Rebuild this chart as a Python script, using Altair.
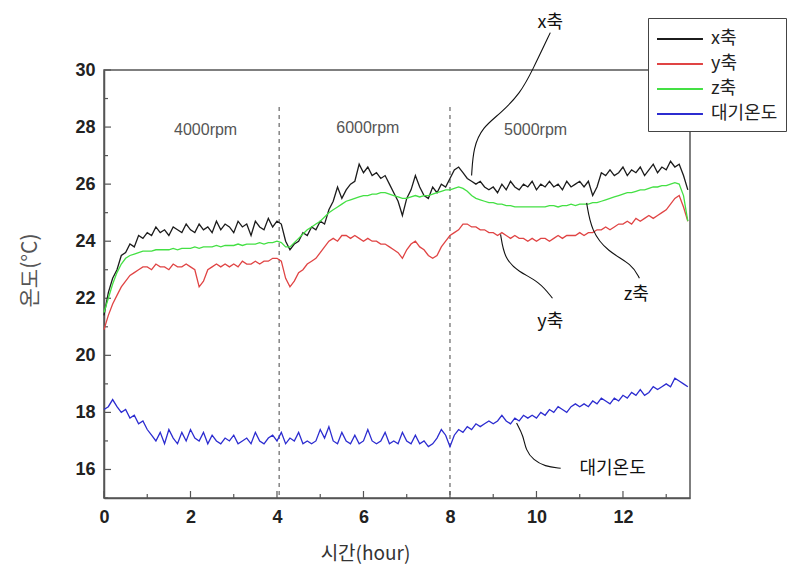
import altair as alt
import pandas as pd

# time grid (hours), sampled every 0.1 h
hours = [round(i * 0.1, 1) for i in range(136)]

x_axis_temp = [
    21.4, 22.2, 22.7, 23.0, 23.5, 23.6, 23.9, 23.8, 24.2, 24.1,
    24.3, 24.2, 24.5, 24.3, 24.4, 24.2, 24.5, 24.4, 24.3, 24.6,
    24.4, 24.3, 24.6, 24.4, 24.5, 24.3, 24.7, 24.4, 24.6, 24.5,
    24.3, 24.7, 24.5, 24.6, 24.2, 24.7, 24.5, 24.4, 24.8, 24.5,
    24.7, 24.6, 24.0, 23.7, 23.9, 24.0, 24.3, 24.2, 24.5, 24.4,
    24.7, 24.6, 25.1, 25.4, 25.9, 25.5, 25.8, 26.0, 26.1, 26.7,
    26.4, 26.6, 26.3, 26.4, 26.2, 26.3, 26.0, 25.7, 25.4, 24.9,
    25.5, 25.8, 26.3, 25.9, 25.6, 25.5, 25.9, 25.7, 26.0, 25.9,
    26.2, 26.5, 26.6, 26.4, 26.2, 26.1, 26.0, 26.1, 25.9, 25.8,
    25.9, 25.7, 26.0, 25.8, 26.1, 25.9, 25.8, 26.0, 25.9, 26.1,
    25.8, 26.0, 25.9, 26.1, 25.9, 26.0, 25.8, 26.1, 25.9, 26.0,
    26.1, 25.9, 26.1, 25.6, 25.9, 26.4, 26.3, 26.5, 26.3, 26.4,
    26.6, 26.3, 26.5, 26.4, 26.6, 26.3, 26.5, 26.7, 26.4, 26.6,
    26.5, 26.8, 26.6, 26.7, 26.3, 25.8,
]

y_axis_temp = [
    20.9, 21.4, 21.8, 22.1, 22.4, 22.6, 22.8, 22.9, 23.0, 23.1,
    23.1, 23.0, 23.2, 23.1, 23.1, 23.0, 23.2, 23.1, 23.1, 23.2,
    23.1, 23.0, 22.4, 22.6, 23.0, 23.1, 23.2, 23.1, 23.2, 23.1,
    23.2, 23.1, 23.3, 23.2, 23.2, 23.3, 23.2, 23.3, 23.3, 23.4,
    23.4, 23.3, 22.7, 22.4, 22.6, 22.9, 23.0, 23.2, 23.3, 23.4,
    23.6, 23.8, 24.0, 24.1, 24.0, 24.2, 24.2, 24.1, 24.2, 24.1,
    24.0, 24.1, 24.0, 24.0, 23.9, 23.9, 23.8, 23.7, 23.6, 23.4,
    23.7, 23.9, 24.0, 23.8, 23.7, 23.5, 23.4, 23.5, 23.8, 24.0,
    24.2, 24.3, 24.4, 24.6, 24.6, 24.5, 24.5, 24.4, 24.4, 24.3,
    24.3, 24.2, 24.3, 24.2, 24.1, 24.2, 24.1, 24.1, 24.0, 24.1,
    24.0, 24.1, 24.1, 24.0, 24.1, 24.2, 24.1, 24.2, 24.2, 24.2,
    24.3, 24.2, 24.3, 24.3, 24.4, 24.4, 24.5, 24.4, 24.5, 24.6,
    24.6, 24.7, 24.6, 24.8, 24.7, 24.8, 24.9, 24.8, 24.9, 25.0,
    25.1, 25.3, 25.5, 25.6, 25.2, 24.7,
]

z_axis_temp = [
    21.5, 22.0, 22.5, 22.9, 23.2, 23.4, 23.5, 23.55, 23.6, 23.65,
    23.65, 23.65, 23.7, 23.7, 23.7, 23.7, 23.75, 23.7, 23.75, 23.75,
    23.75, 23.8, 23.75, 23.8, 23.8, 23.8, 23.85, 23.8, 23.85, 23.85,
    23.85, 23.9, 23.85, 23.9, 23.9, 23.9, 23.95, 23.9, 23.95, 23.95,
    24.0, 23.95, 23.8, 23.8, 23.95, 24.1, 24.25, 24.4, 24.5, 24.6,
    24.7, 24.85, 25.0, 25.1, 25.2, 25.3, 25.4, 25.45, 25.5, 25.55,
    25.6, 25.6, 25.65, 25.65, 25.7, 25.7, 25.65, 25.6, 25.55, 25.5,
    25.5, 25.55, 25.6, 25.55, 25.6, 25.6, 25.65, 25.7, 25.75, 25.8,
    25.8, 25.85, 25.9, 25.85, 25.75, 25.6, 25.5, 25.45, 25.4, 25.35,
    25.35, 25.3, 25.3, 25.25, 25.25, 25.2, 25.2, 25.2, 25.2, 25.2,
    25.2, 25.2, 25.2, 25.25, 25.25, 25.2, 25.25, 25.25, 25.3, 25.25,
    25.3, 25.3, 25.3, 25.35, 25.35, 25.4, 25.45, 25.5, 25.55, 25.6,
    25.65, 25.7, 25.7, 25.75, 25.8, 25.8, 25.85, 25.9, 25.9, 25.95,
    25.95, 26.0, 26.05, 26.0, 25.6, 24.7,
]

ambient_temp = [
    18.1, 18.2, 18.45, 18.2, 18.0, 18.1, 17.8, 17.9, 17.6, 17.7,
    17.4, 17.2, 17.0, 17.3, 16.9, 17.4, 17.1, 16.9, 17.3, 17.0,
    17.4, 17.1, 17.0, 17.3, 16.9, 17.2, 17.0, 16.9, 17.1, 17.0,
    17.2, 16.9, 17.0, 17.1, 16.9, 17.3, 17.0, 16.9, 17.1, 17.2,
    17.0, 17.3, 16.9, 17.1, 17.0, 17.3, 16.9, 17.0, 16.9, 17.0,
    17.4, 17.1, 17.5, 17.0, 16.9, 17.3, 17.0, 16.9, 17.2, 16.9,
    17.0, 17.4, 17.0, 16.9, 17.0, 17.3, 16.9, 17.0, 16.9, 17.3,
    17.0, 16.9, 17.2, 16.9, 17.0, 16.8, 16.9, 17.1, 17.4, 17.2,
    16.8, 17.2, 17.4, 17.3, 17.5, 17.4, 17.6, 17.5, 17.6, 17.7,
    17.6, 17.7, 17.9, 17.7, 17.6, 17.8, 17.7, 17.9, 17.8, 17.9,
    17.8, 18.0, 17.9, 18.1, 18.0, 18.2, 18.1, 18.0, 18.2, 18.3,
    18.2, 18.3, 18.2, 18.4, 18.3, 18.5, 18.4, 18.3, 18.5, 18.4,
    18.6, 18.5, 18.7, 18.6, 18.8, 18.6, 18.7, 18.9, 18.8, 18.9,
    19.0, 18.9, 19.2, 19.1, 19.0, 18.9,
]

series_names = ["x축", "y축", "z축", "대기온도"]
series_colors = ["#1c1c1c", "#e04444", "#44e044", "#2c2cd0"]

# speed-phase boundaries and labels
phase_bounds = [4.05, 8.0]
phase_labels = ["4000rpm", "6000rpm", "5000rpm"]
phase_label_x = [2.35, 6.1, 9.98]
phase_label_y = [27.9, 27.95, 27.9]

# callout labels (data coordinates)
callout_text = ["x축", "y축", "z축", "대기온도"]
callout_x = [10.32, 10.32, 12.31, 11.76]
callout_y = [31.66, 21.17, 22.12, 16.0]

# leader curves (data coordinates)
leader_x_h = [10.32, 9.91, 9.63, 9.17, 8.75, 8.54, 8.50]
leader_x_v = [31.31, 30.0, 29.19, 28.48, 27.99, 27.28, 26.3]
leader_y_h = [9.17, 9.26, 9.58, 10.07, 10.37]
leader_y_v = [24.24, 23.39, 22.93, 22.58, 22.0]
leader_z_h = [11.16, 11.27, 11.64, 12.22, 12.38]
leader_z_v = [25.34, 24.35, 23.64, 23.18, 22.7]
leader_a_h = [9.54, 9.70, 9.75, 9.93, 10.19, 10.56]
leader_a_v = [17.63, 17.17, 16.68, 16.33, 16.11, 16.04]

x_tick_labels = [0, 2, 4, 6, 8, 10, 12]
y_tick_labels = [16, 18, 20, 22, 24, 26, 28, 30]
x_minor = [1, 3, 5, 7, 9, 11, 13]
y_minor = [15, 17, 19, 21, 23, 25, 27, 29]

W, H = 586, 428

rows = []
for name, vals in zip(series_names, [x_axis_temp, y_axis_temp, z_axis_temp, ambient_temp]):
    for h, v in zip(hours, vals):
        rows.append({"hour": h, "temp": v, "series": name})
df = pd.DataFrame(rows)

lead_rows = []
for g, (hs, vs) in enumerate([(leader_x_h, leader_x_v), (leader_y_h, leader_y_v),
                              (leader_z_h, leader_z_v), (leader_a_h, leader_a_v)]):
    for i, (h, v) in enumerate(zip(hs, vs)):
        lead_rows.append({"g": g, "i": i, "hour": h, "temp": v})
df_lead = pd.DataFrame(lead_rows)

xscale = alt.Scale(domain=[0, 13.55], nice=False, zero=False)
yscale = alt.Scale(domain=[15, 30], nice=False, zero=False)

xaxis = alt.Axis(values=x_tick_labels, tickSize=0, grid=False, labelPadding=10,
                 labelFlush=False,
                 labelFont="Liberation Sans", labelFontWeight="bold", labelFontSize=18,
                 labelColor="#222", domainColor="#555", domainWidth=1.5,
                 title="시간(hour)", titleFont="Noto Sans CJK KR", titleFontSize=19,
                 titleFontWeight="normal", titleColor="#333", titleX=261, titleY=55,
                 titleAlign="center", titleBaseline="middle")
yaxis = alt.Axis(values=y_tick_labels, tickSize=0, grid=False, labelPadding=9,
                 labelFlush=False,
                 labelFont="Liberation Sans", labelFontWeight="bold", labelFontSize=18,
                 labelColor="#222", domainColor="#555", domainWidth=1.5,
                 title="온도(°C)", titleFont="Noto Sans CJK KR", titleFontSize=21,
                 titleFontWeight="normal", titleColor="#555", titleX=-74, titleY=200,
                 titleAlign="center", titleBaseline="middle", titleAngle=270)

lines = alt.Chart(df).mark_line(strokeWidth=1.3).encode(
    x=alt.X("hour:Q", scale=xscale, axis=xaxis),
    y=alt.Y("temp:Q", scale=yscale, axis=yaxis),
    color=alt.Color("series:N",
                    scale=alt.Scale(domain=series_names, range=series_colors),
                    sort=series_names,
                    legend=alt.Legend(title=None, orient="none", legendX=544, legendY=-52,
                                      fillColor="white", strokeColor="#444", padding=8,
                                      labelFont="Noto Sans CJK KR", labelFontSize=18,
                                      labelColor="#222", symbolType="M-1,0L2.83,0",
                                      symbolSize=576, symbolStrokeWidth=2,
                                      labelOffset=29, rowPadding=3)),
)

df_bounds = pd.DataFrame({"hour": phase_bounds, "top": [28.7, 28.7], "bot": [15, 15]})
bounds = alt.Chart(df_bounds).mark_rule(color="#666", strokeWidth=1.2, strokeDash=[4, 4]).encode(
    x="hour:Q", y="top:Q", y2="bot:Q")

df_phase = pd.DataFrame({"hour": phase_label_x, "temp": phase_label_y, "t": phase_labels})
phase_txt = alt.Chart(df_phase).mark_text(font="Liberation Sans", fontSize=16, color="#555").encode(
    x="hour:Q", y="temp:Q", text="t:N")

df_call = pd.DataFrame({"hour": callout_x, "temp": callout_y, "t": callout_text})
call_txt = alt.Chart(df_call).mark_text(font="Noto Sans CJK KR", fontSize=18, color="#111").encode(
    x="hour:Q", y="temp:Q", text="t:N")

leaders = alt.Chart(df_lead).mark_line(color="#111", strokeWidth=1.1, interpolate="basis").encode(
    x="hour:Q", y="temp:Q", detail="g:N", order="i:Q")

df_ymaj = pd.DataFrame({"temp": y_tick_labels})
df_ymin = pd.DataFrame({"temp": y_minor})
df_xmaj = pd.DataFrame({"hour": x_tick_labels})
df_xmin = pd.DataFrame({"hour": x_minor})
ytick_maj = alt.Chart(df_ymaj).mark_rule(color="#555", strokeWidth=1.2).encode(
    y="temp:Q", x=alt.value(0), x2=alt.value(7))
ytick_min = alt.Chart(df_ymin).mark_rule(color="#555", strokeWidth=1.2).encode(
    y="temp:Q", x=alt.value(0), x2=alt.value(4))
xtick_maj = alt.Chart(df_xmaj).mark_rule(color="#555", strokeWidth=1.2).encode(
    x="hour:Q", y=alt.value(H), y2=alt.value(H - 7))
xtick_min = alt.Chart(df_xmin).mark_rule(color="#555", strokeWidth=1.2).encode(
    x="hour:Q", y=alt.value(H), y2=alt.value(H - 4))

chart = alt.layer(
    bounds, ytick_maj, ytick_min, xtick_maj, xtick_min, lines, phase_txt, leaders, call_txt
).properties(
    width=W, height=H,
    autosize=alt.AutoSizeParams(type="none"),
    padding={"left": 96, "top": 62, "right": 107, "bottom": 79},
    background="white",
).configure_view(stroke="#555", strokeWidth=1.5)

chart.save("out.html", embed_options={"renderer": "svg", "actions": False})
